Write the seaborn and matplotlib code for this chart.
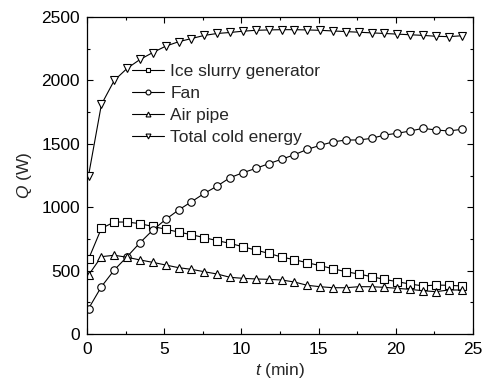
import numpy as np
import pandas as pd
import matplotlib
matplotlib.use("Agg")
import matplotlib.pyplot as plt
import seaborn as sns
from matplotlib.ticker import MultipleLocator

# ---- data ----
t_min = [round(0.1 + 0.8333 * i, 3) for i in range(30)]
ice_slurry = [591, 833, 883, 883, 870, 848, 826, 804, 783, 760,
              736, 715, 688, 662, 636, 607, 586, 562, 539, 515,
              491, 473, 452, 431, 412, 394, 379, 386, 384, 379]
fan = [200, 373, 505, 610, 720, 820, 904, 978, 1043, 1109,
       1167, 1233, 1272, 1306, 1343, 1378, 1414, 1456, 1488, 1515,
       1530, 1530, 1543, 1569, 1583, 1601, 1622, 1609, 1601, 1614]
air_pipe = [465, 610, 621, 605, 584, 565, 544, 523, 510, 491,
            473, 447, 439, 434, 431, 426, 410, 384, 373, 365,
            365, 373, 373, 368, 360, 352, 341, 334, 347, 347]
total = [1250, 1810, 2000, 2095, 2165, 2220, 2270, 2305, 2330, 2355,
         2370, 2378, 2388, 2395, 2398, 2400, 2400, 2398, 2395, 2390,
         2385, 2380, 2375, 2370, 2365, 2360, 2355, 2348, 2345, 2352]
series_names = ["Ice slurry generator", "Fan", "Air pipe", "Total cold energy"]
series_values = [ice_slurry, fan, air_pipe, total]
markers = ["s", "o", "^", "v"]

x_ticks = [0, 5, 10, 15, 20, 25]
y_ticks = [0, 500, 1000, 1500, 2000, 2500]

sns.set_style("ticks")
plt.rcParams["font.family"] = ["Liberation Sans", "DejaVu Sans"]
plt.rcParams["mathtext.fontset"] = "custom"
plt.rcParams["mathtext.it"] = "Liberation Sans:italic"
plt.rcParams["mathtext.rm"] = "Liberation Sans"

FS = 12.5
fig = plt.figure(figsize=(4.89, 3.83), dpi=100)
ax = fig.add_axes([87 / 489, 1 - 334 / 383, (473 - 87) / 489, (334 - 17) / 383])

for name, vals, mk in zip(series_names, series_values, markers):
    df = pd.DataFrame({"t": t_min, "Q": vals})
    sns.lineplot(data=df, x="t", y="Q", ax=ax, color="black", linewidth=0.8,
                 marker=mk, markersize=5.4, markerfacecolor="white",
                 markeredgecolor="black", markeredgewidth=0.8, label=name)

ax.set_xlim(0, 25)
ax.set_ylim(0, 2500)
ax.set_xticks(x_ticks)
ax.set_yticks(y_ticks)
ax.xaxis.set_minor_locator(MultipleLocator(2.5))
ax.yaxis.set_minor_locator(MultipleLocator(250))
ax.tick_params(which="both", direction="in", top=True, right=True,
               labelsize=FS, width=0.8, colors="black")
ax.tick_params(axis="x", which="both", pad=6)
ax.tick_params(axis="y", which="both", pad=5)
ax.tick_params(which="major", length=4)
ax.tick_params(which="minor", length=2.5)
for s in ax.spines.values():
    s.set_linewidth(0.9)
    s.set_color("black")

ax.set_xlabel(r"$\it{t}$ (min)", fontsize=FS, labelpad=3)
ax.set_ylabel(r"$\it{Q}$ (W)", fontsize=FS, labelpad=5)

leg = ax.legend(loc="upper left", bbox_to_anchor=(0.117, 0.853), frameon=False,
                fontsize=FS, handlelength=1.85, handletextpad=0.35,
                labelspacing=0.4, markerscale=0.65, borderaxespad=0,
                borderpad=0)

fig.savefig("out.png", dpi=100)
